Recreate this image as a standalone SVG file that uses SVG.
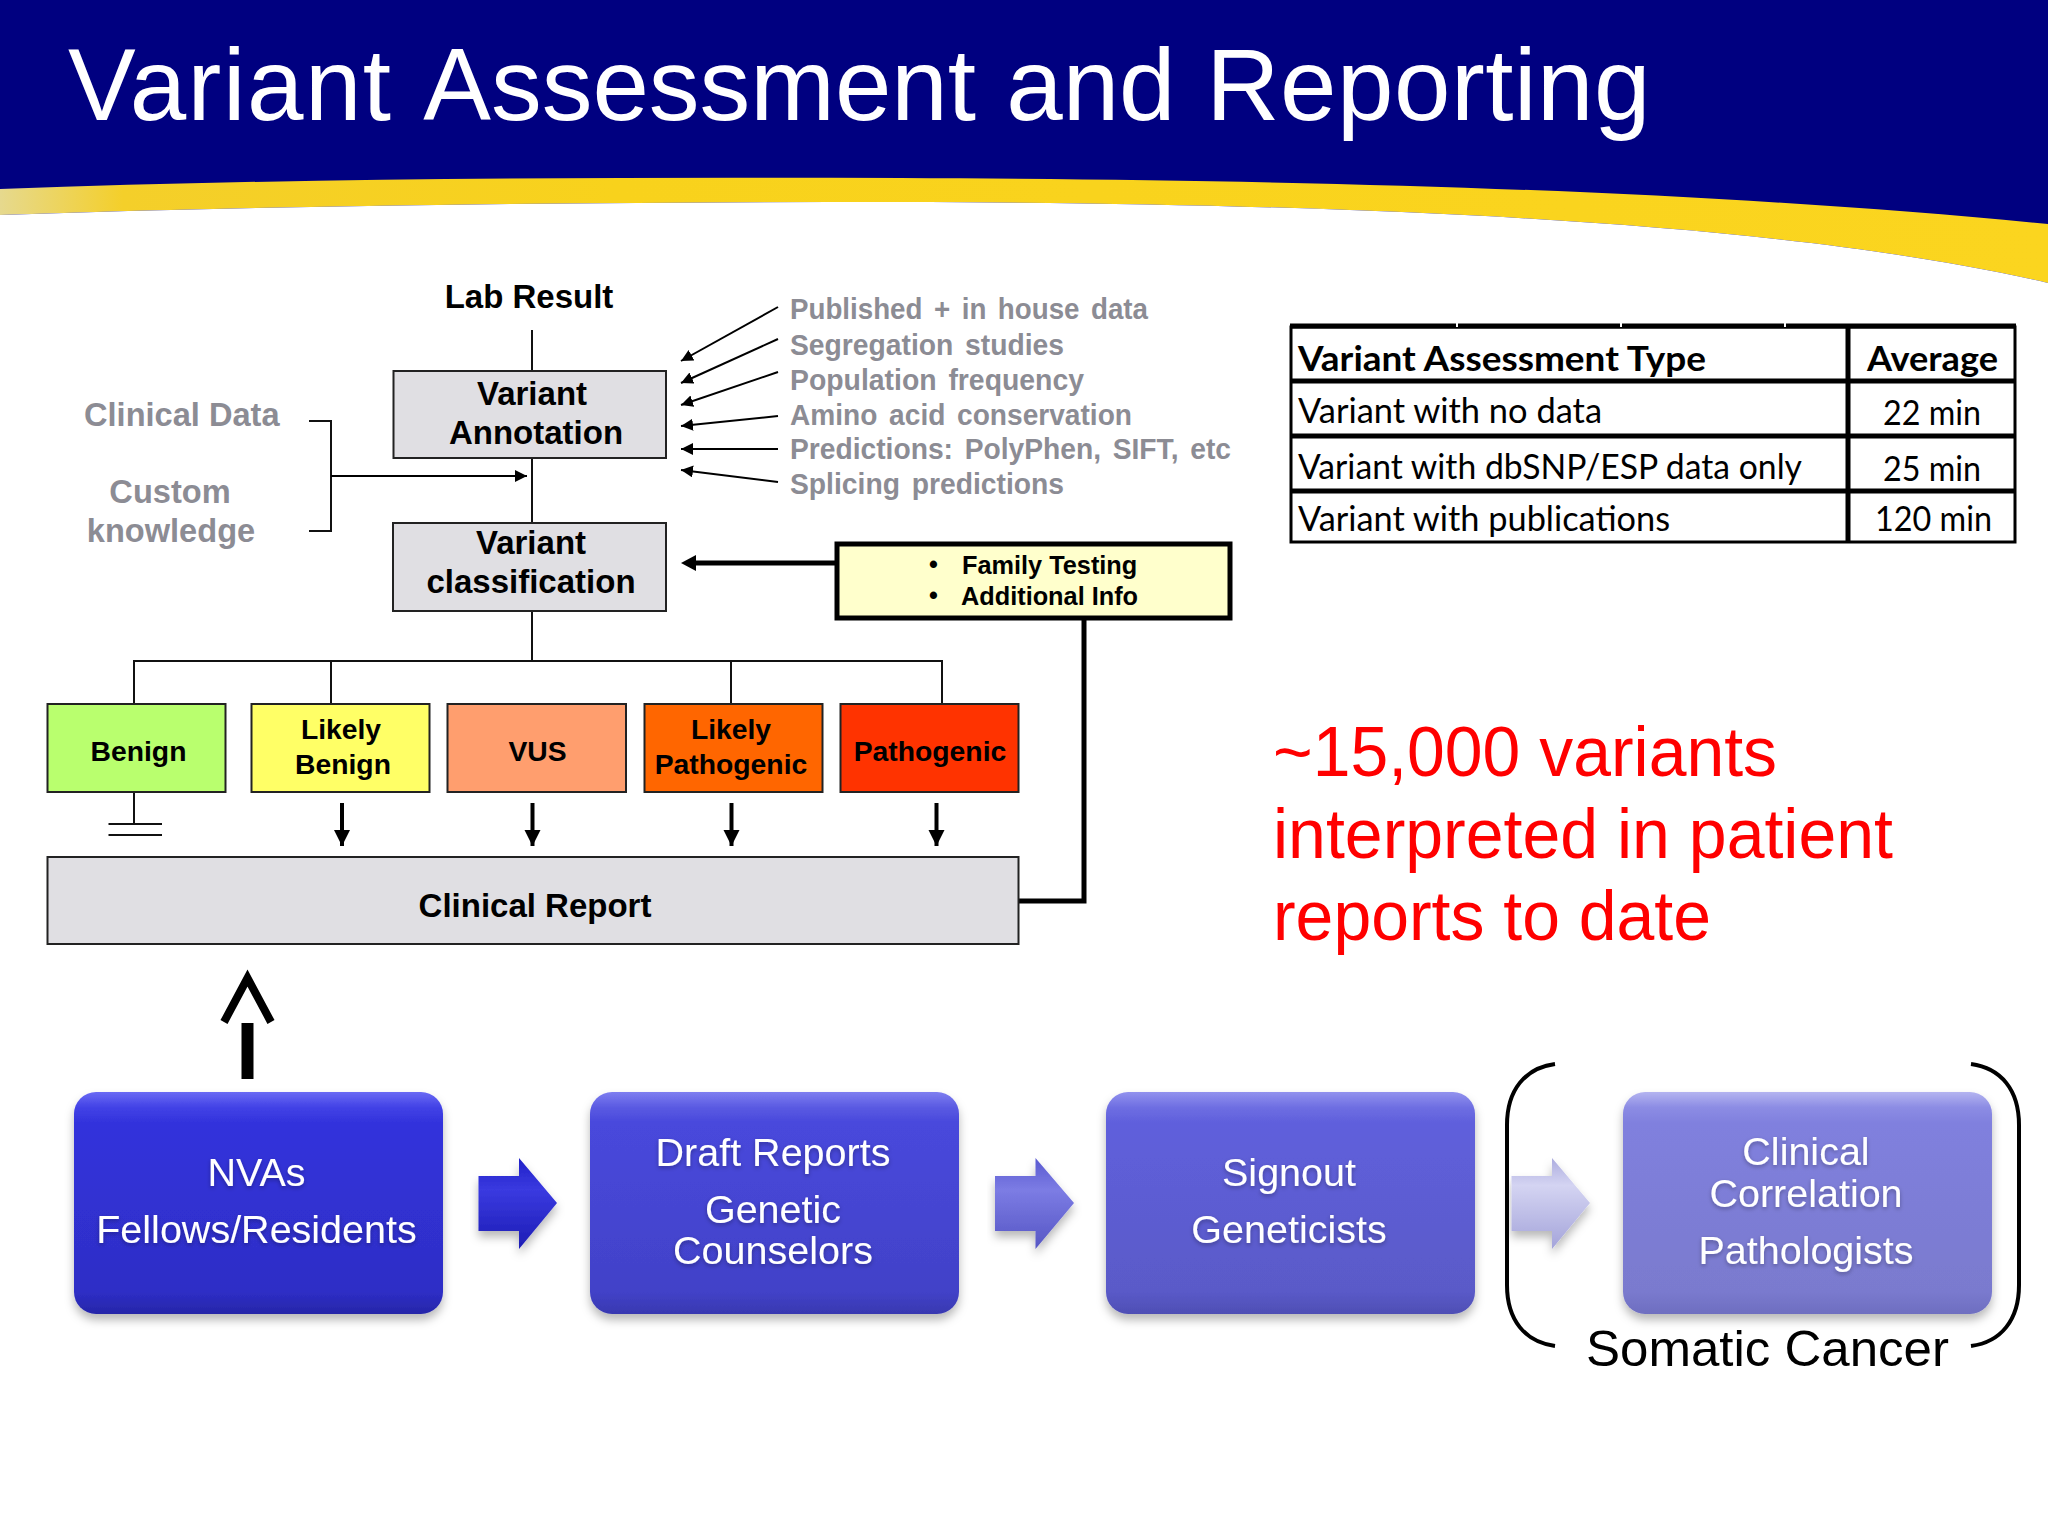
<svg xmlns="http://www.w3.org/2000/svg" width="2048" height="1536" viewBox="0 0 2048 1536">
<defs>
<style>
text{font-family:"Liberation Sans",Arial,sans-serif}
.b{font-weight:bold;fill:#000}
.m{text-anchor:middle}
.n{font-size:33px}
.c{font-size:28.300px}
.g{font-weight:bold;fill:#8c8c94;font-size:29px;word-spacing:4px}
.gl{font-weight:bold;fill:#8c8c94;font-size:32.600px}
.t{font-family:Lato,"Liberation Sans",sans-serif;font-size:34px;fill:#000}
.tb{font-weight:bold}
.w{fill:#fff;font-size:39.500px;text-anchor:middle;filter:url(#ts)}
.red{fill:#f00;font-size:70px}
.box{stroke:#222;stroke-width:2}
.l{fill:none;stroke:#111;stroke-width:2}
.a{fill:none;stroke:#000;stroke-width:2;marker-end:url(#ah)}
.d{fill:none;stroke:#000;stroke-width:4;marker-end:url(#dh)}
.th{fill:none;stroke:#000;stroke-width:5}
.tl{stroke:#000;stroke-width:5}
.br{fill:none;stroke:#000;stroke-width:4}
.rb{stroke:none;filter:url(#sh)}
</style>
<marker id="ah" markerUnits="userSpaceOnUse" markerWidth="14" markerHeight="14" refX="12" refY="6" orient="auto"><path d="M0 0L12 6L0 12Z" fill="#000"/></marker>
<marker id="dh" markerUnits="userSpaceOnUse" markerWidth="16" markerHeight="20" refX="16" refY="8" orient="auto"><path d="M0 0L16 8L0 16Z" fill="#000"/></marker>
<linearGradient id="band" x1="0" x2="1" y1="0" y2="0"><stop offset="0" stop-color="#e6d98e"/><stop offset=".06" stop-color="#f4cf2a"/><stop offset=".3" stop-color="#f8d21c"/><stop offset="1" stop-color="#fbd51f"/></linearGradient>
<linearGradient id="g1" x1="0" x2="0" y1="0" y2="1"><stop offset="0" stop-color="#6a6af4"/><stop offset=".07" stop-color="#4242e6"/><stop offset=".14" stop-color="#3232dc"/><stop offset=".9" stop-color="#2e2ec6"/><stop offset="1" stop-color="#2626a8"/></linearGradient>
<linearGradient id="g2" x1="0" x2="0" y1="0" y2="1"><stop offset="0" stop-color="#7e7ef0"/><stop offset=".07" stop-color="#5a5ae2"/><stop offset=".14" stop-color="#4848dc"/><stop offset=".9" stop-color="#4242c8"/><stop offset="1" stop-color="#3838b0"/></linearGradient>
<linearGradient id="g3" x1="0" x2="0" y1="0" y2="1"><stop offset="0" stop-color="#9292ee"/><stop offset=".07" stop-color="#6e6ee2"/><stop offset=".14" stop-color="#5f5fdc"/><stop offset=".9" stop-color="#5a5ac8"/><stop offset="1" stop-color="#4e4eb4"/></linearGradient>
<linearGradient id="g4" x1="0" x2="0" y1="0" y2="1"><stop offset="0" stop-color="#b4b4f0"/><stop offset=".07" stop-color="#8c8ce4"/><stop offset=".14" stop-color="#8080de"/><stop offset=".9" stop-color="#7a7ace"/><stop offset="1" stop-color="#6e6ec0"/></linearGradient>
<linearGradient id="a1" x1="0" x2="0" y1="0" y2="1"><stop offset="0" stop-color="#2020c8"/><stop offset=".35" stop-color="#3a3ae0"/><stop offset="1" stop-color="#1c1cb4"/></linearGradient>
<linearGradient id="a2" x1="0" x2="0" y1="0" y2="1"><stop offset="0" stop-color="#5a5ad0"/><stop offset=".35" stop-color="#7c7ce4"/><stop offset="1" stop-color="#5656c4"/></linearGradient>
<linearGradient id="a3" x1="0" x2="0" y1="0" y2="1"><stop offset="0" stop-color="#acacdf"/><stop offset=".3" stop-color="#d4d4f2"/><stop offset="1" stop-color="#a4a4da"/></linearGradient>
<filter id="sh" x="-10%" y="-10%" width="120%" height="125%"><feDropShadow dx="0" dy="6" stdDeviation="5" flood-color="#000" flood-opacity=".28"/></filter>
<filter id="ts" x="-10%" y="-20%" width="120%" height="150%"><feDropShadow dx="0" dy="2" stdDeviation="2" flood-color="#000" flood-opacity=".3"/></filter>
</defs>
<rect width="2048" height="1536" fill="#fff"/>
<g id="header">
<rect width="2048" height="290" fill="#000080"/>
<path d="M0 189C300 178 600 177 900 178C1400 180 1750 195 2048 224V283C1800 225 1400 203 900 202C600 202 300 205 0 215Z" fill="url(#band)"/>
<path d="M0 215C300 205 600 202 900 202C1400 203 1800 225 2048 283V300H0Z" fill="#fff"/>
<text x="68" y="120" font-size="101.500" fill="#fff"><tspan letter-spacing="1.500">Variant</tspan><tspan dx="8"> Assessment</tspan><tspan dx="2"> and</tspan><tspan dx="2" letter-spacing=".5"> Reporting</tspan></text>
</g>
<g id="connectors">
<path class="l" d="M532 330V371M532 458V523M532 611V662M134 704V661H942V704M331 661V704M731 661V704M134 792V824"/>
<path class="l" d="M108.500 824H162M108.500 835H162"/>
<path class="l" d="M309 421H331V531H309"/>
<path class="a" d="M331 476H527"/>
<path class="a" d="M778 307L681 361"/>
<path class="a" d="M778 339L681 383"/>
<path class="a" d="M778 372L681 405"/>
<path class="a" d="M778 416L681 426"/>
<path class="a" d="M778 449H681"/>
<path class="a" d="M778 482L681 470"/>
<path class="th" d="M836 563H695"/>
<path d="M681 563L696 555V571Z" fill="#000"/>
<path class="th" d="M1084 619V901H1019"/>
<path class="d" d="M342 803V846"/>
<path class="d" d="M532.500 803V846"/>
<path class="d" d="M731.500 803V846"/>
<path class="d" d="M936.500 803V846"/>
<path d="M241.500 1023H253.500V1079H241.500Z" fill="#000"/>
<path d="M224 1022L247.500 978L271 1022" fill="none" stroke="#000" stroke-width="8" stroke-linejoin="miter"/>
</g>
<g id="lab-result"><text class="b m" x="529" y="308" font-size="33">Lab Result</text></g>
<g id="clinical-data"><text class="gl" x="84" y="426">Clinical Data</text></g>
<g id="custom-knowledge"><text class="gl m" x="170" y="503">Custom</text><text class="gl m" x="171" y="542">knowledge</text></g>
<g id="variant-annotation"><rect class="box" x="393.500" y="371" width="272.500" height="87" fill="#e0dfe3"/><text class="b m n" x="532" y="405">Variant</text><text class="b m n" x="536" y="444">Annotation</text></g>
<g id="variant-classification"><rect class="box" x="393" y="523" width="273" height="88" fill="#e0dfe3"/><text class="b m n" x="531" y="554">Variant</text><text class="b m n" x="531" y="593">classification</text></g>
<g id="sources">
<text class="g" x="790" y="319" textLength="358" lengthAdjust="spacingAndGlyphs">Published + in house data</text>
<text class="g" x="790" y="355" textLength="274" lengthAdjust="spacingAndGlyphs">Segregation studies</text>
<text class="g" x="790" y="390" textLength="294" lengthAdjust="spacingAndGlyphs">Population frequency</text>
<text class="g" x="790" y="425" textLength="342" lengthAdjust="spacingAndGlyphs">Amino acid conservation</text>
<text class="g" x="790" y="459" textLength="441" lengthAdjust="spacingAndGlyphs">Predictions: PolyPhen, SIFT, etc</text>
<text class="g" x="790" y="494" textLength="274" lengthAdjust="spacingAndGlyphs">Splicing predictions</text>
</g>
<g id="family-testing"><rect x="837" y="544" width="393" height="74" fill="#ffffcc" stroke="#000" stroke-width="5"/>
<text class="b" x="929" y="573" font-size="25.300">•</text><text class="b" x="962" y="574" font-size="25.300">Family Testing</text>
<text class="b" x="929" y="604" font-size="25.300">•</text><text class="b" x="961" y="605" font-size="25.300">Additional Info</text></g>
<g id="benign"><rect class="box" x="47.500" y="704" width="178" height="88" fill="#b9ff6e"/><text class="b m c" x="138.500" y="761">Benign</text></g>
<g id="likely-benign"><rect class="box" x="251.500" y="704" width="178" height="88" fill="#ffff66"/><text class="b m c" x="341" y="739">Likely</text><text class="b m c" x="343" y="774">Benign</text></g>
<g id="vus"><rect class="box" x="447.500" y="704" width="178.500" height="88" fill="#ff9e6e"/><text class="b m c" x="537.500" y="761">VUS</text></g>
<g id="likely-pathogenic"><rect class="box" x="644.500" y="704" width="178" height="88" fill="#ff6600"/><text class="b m c" x="731" y="739">Likely</text><text class="b m c" x="731" y="774">Pathogenic</text></g>
<g id="pathogenic"><rect class="box" x="840.500" y="704" width="178" height="88" fill="#ff3300"/><text class="b m c" x="930" y="761">Pathogenic</text></g>
<g id="clinical-report"><rect class="box" x="47.500" y="857" width="971" height="87" fill="#e0dfe3"/><text class="b m" x="535" y="917" font-size="33">Clinical Report</text></g>
<g id="assessment-table">
<rect x="1291" y="327" width="724" height="215" fill="#fff" stroke="#000" stroke-width="3"/>
<path class="tl" d="M1290 326H2016M1290 381H2016M1290 436H2016M1290 491H2016M1848 326V542"/>
<path stroke="#fff" stroke-width="2" d="M1457 323V327M1621 323V327M1785 323V327"/>
<text class="t tb" x="1298" y="371" textLength="408" lengthAdjust="spacingAndGlyphs">Variant Assessment Type</text>
<text class="t tb" x="1867" y="371" textLength="131" lengthAdjust="spacingAndGlyphs">Average</text>
<text class="t" x="1298" y="423" textLength="304" lengthAdjust="spacingAndGlyphs">Variant with no data</text>
<text class="t" x="1883" y="425" textLength="98" lengthAdjust="spacingAndGlyphs">22 min</text>
<text class="t" x="1298" y="479" textLength="504" lengthAdjust="spacingAndGlyphs">Variant with dbSNP/ESP data only</text>
<text class="t" x="1883" y="481" textLength="98" lengthAdjust="spacingAndGlyphs">25 min</text>
<text class="t" x="1298" y="531" textLength="372" lengthAdjust="spacingAndGlyphs">Variant with publications</text>
<text class="t" x="1875" y="531" textLength="117" lengthAdjust="spacingAndGlyphs">120 min</text>
</g>
<g id="variant-count">
<text class="red" x="1273" y="776" textLength="504" lengthAdjust="spacingAndGlyphs">~15,000 variants</text>
<text class="red" x="1273" y="858" textLength="620" lengthAdjust="spacingAndGlyphs">interpreted in patient</text>
<text class="red" x="1273" y="940" textLength="438" lengthAdjust="spacingAndGlyphs">reports to date</text>
</g>
<g id="nvas"><rect class="rb" x="74" y="1092" width="369" height="222" rx="22" fill="url(#g1)"/><text class="w" x="256.500" y="1186">NVAs</text><text class="w" x="256.500" y="1243">Fellows/Residents</text></g>
<g id="arrow-1"><path d="M478.500 1176H519V1158L557 1203L519 1249V1231H478.500Z" fill="url(#a1)" class="rb"/></g>
<g id="draft-reports"><rect class="rb" x="590" y="1092" width="369" height="222" rx="22" fill="url(#g2)"/><text class="w" x="773" y="1166">Draft Reports</text><text class="w" x="773" y="1223">Genetic</text><text class="w" x="773" y="1264">Counselors</text></g>
<g id="arrow-2"><path d="M995 1176H1035.500V1158L1074 1203L1035.500 1249V1231H995Z" fill="url(#a2)" class="rb"/></g>
<g id="signout"><rect class="rb" x="1106" y="1092" width="369" height="222" rx="22" fill="url(#g3)"/><text class="w" x="1289" y="1186">Signout</text><text class="w" x="1289" y="1243">Geneticists</text></g>
<g id="arrow-3"><path d="M1511.500 1176H1552V1158L1590 1203L1552 1249V1231H1511.500Z" fill="url(#a3)" class="rb"/></g>
<g id="clinical-correlation"><rect class="rb" x="1623" y="1092" width="369" height="222" rx="22" fill="url(#g4)"/><text class="w" x="1806" y="1165">Clinical</text><text class="w" x="1806" y="1207">Correlation</text><text class="w" x="1806" y="1264">Pathologists</text></g>
<g id="somatic-cancer">
<path class="br" d="M1555 1064C1525 1068 1507 1090 1507 1125V1285C1507 1320 1525 1342 1555 1346"/>
<path class="br" d="M1971 1064C2001 1068 2019 1090 2019 1125V1285C2019 1320 2001 1342 1971 1346"/>
<text x="1586" y="1366" font-size="50" fill="#000" textLength="363" lengthAdjust="spacingAndGlyphs">Somatic Cancer</text>
</g>
</svg>
